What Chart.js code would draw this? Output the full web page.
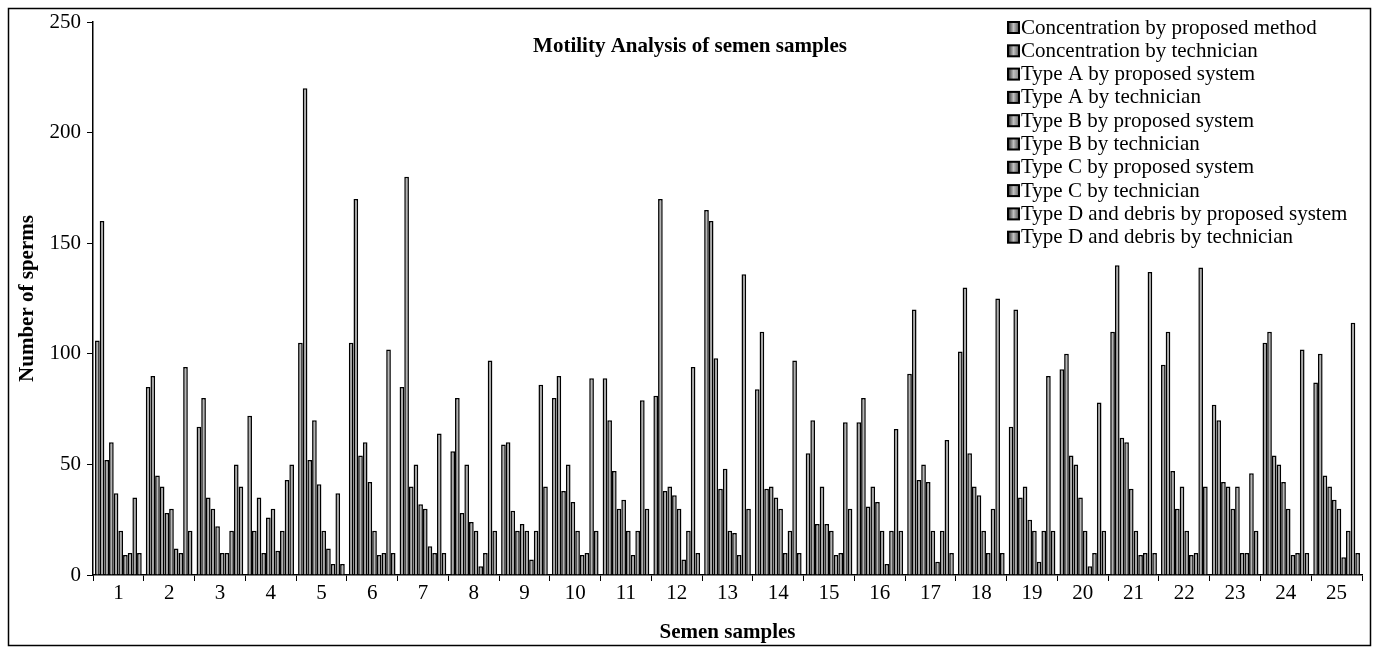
<!DOCTYPE html>
<html><head><meta charset="utf-8">
<script src="https://cdn.jsdelivr.net/npm/chart.js@4.4.0/dist/chart.umd.min.js"></script>
<style>html,body{margin:0;padding:0;background:#fff;}#wrap{width:1376px;height:648px;position:relative}</style>
</head><body><div id="wrap"><canvas id="c" width="1376" height="648"></canvas></div>
<script>
const categories = ['1','2','3','4','5','6','7','8','9','10','11','12','13','14','15','16','17','18','19','20','21','22','23','24','25'];
const seriesNames = ['Concentration by proposed method','Concentration by technician','Type A by proposed system','Type A by technician','Type B by proposed system','Type B by technician','Type C by proposed system','Type C by technician','Type D and debris by proposed system','Type D and debris by technician'];
const concProposed = [106,85,67,72,105,105,85,56,59,80,89,81,165,84,55,69,91,101,67,93,110,95,77,105,87];
const concTech     = [160,90,80,20,220,170,180,80,60,90,70,170,160,110,70,80,120,130,120,100,140,110,70,110,100];
const typeAProp    = [52,45,35,35,52,54,40,28,29,38,47,38,98,39,23,31,43,55,35,54,62,47,42,54,45];
const typeATech    = [60,40,30,10,70,60,50,50,20,50,30,40,39,40,40,40,50,40,40,50,60,30,40,50,40];
const typeBProp    = [37,28,22,26,41,42,32,24,23,33,34,36,48,35,23,33,42,36,25,35,39,40,30,42,34];
const typeBTech    = [20,30,10,30,20,20,30,20,20,20,20,30,20,30,20,20,20,20,20,20,20,20,40,30,30];
const typeCProp    = [9,12,10,11,12,9,13,4,7,9,9,7,19,10,9,5,6,10,6,4,9,9,10,9,8];
const typeCTech    = [10,10,20,20,5,10,10,10,20,10,20,20,9,20,10,20,20,30,20,10,10,10,10,10,20];
const typeDProp    = [35,94,50,43,37,102,64,97,86,89,79,94,136,97,69,66,61,125,90,78,137,139,46,102,114];
const typeDTech    = [10,20,40,50,5,10,10,20,40,20,30,10,30,10,30,20,10,10,20,20,10,40,20,10,10];
const yTicks = [0,50,100,150,200,250];

const seriesData = [concProposed,concTech,typeAProp,typeATech,typeBProp,typeBTech,typeCProp,typeCTech,typeDProp,typeDTech];
const fills = ['#505050','#5e5e5e','#8a8a8a','#444444','#747474','#4a4a4a','#565656','#6a6a6a','#525252','#4c4c4c'];
const FONT = '"Liberation Serif", "Times New Roman", serif';
const CAT_PCT = 0.92;

function barFill(context) {
  const chart = context.chart;
  const xs = chart.scales.x;
  const base = fills[context.datasetIndex];
  if (!xs || !chart.chartArea || context.dataIndex === undefined) return base;
  const cw = xs.width / categories.length;
  const bw = cw * CAT_PCT / seriesNames.length;
  const center = xs.getPixelForValue(context.dataIndex);
  const x0 = center - cw * CAT_PCT / 2 + context.datasetIndex * bw;
  const g = chart.ctx.createLinearGradient(x0, 0, x0 + bw, 0);
  g.addColorStop(0, '#2a2a2a');
  g.addColorStop(0.5, '#b8b8b8');
  g.addColorStop(1, base);
  return g;
}

const decor = {
  id: 'decor',
  afterDraw(chart) {
    const ctx = chart.ctx;
    ctx.save();
    ctx.strokeStyle = '#000'; ctx.lineWidth = 1.5;
    ctx.strokeRect(8.5, 8.5, 1362, 637);
    ctx.fillStyle = '#000';
    ctx.font = 'bold 21px ' + FONT;
    ctx.textAlign = 'center'; ctx.textBaseline = 'middle';
    ctx.fillText('Motility Analysis of semen samples', 690, 47);
    ctx.font = '21px ' + FONT;
    ctx.textAlign = 'left';
    seriesNames.forEach((n, i) => {
      const y = 27 + i * 23.3;
      const g = ctx.createLinearGradient(1008, 0, 1019, 0);
      g.addColorStop(0, '#2a2a2a'); g.addColorStop(0.5, '#c0c0c0'); g.addColorStop(1, fills[i]);
      ctx.fillStyle = g;
      ctx.fillRect(1008, y - 5, 11, 11);
      ctx.strokeStyle = '#000'; ctx.lineWidth = 2;
      ctx.strokeRect(1008, y - 5, 11, 11);
      ctx.fillStyle = '#000';
      ctx.fillText(n, 1021, y + 1);
    });
    ctx.restore();
  }
};

new Chart(document.getElementById('c'), {
  type: 'bar',
  data: {
    labels: categories,
    datasets: seriesNames.map((n, i) => ({
      label: n, data: seriesData[i],
      backgroundColor: barFill, borderColor: '#000', borderWidth: 1.5,
      categoryPercentage: CAT_PCT, barPercentage: 1.0
    }))
  },
  options: {
    responsive: false, animation: false, devicePixelRatio: 1,
    layout: { padding: { top: 22, right: 14, left: 0, bottom: 0 } },
    plugins: { legend: { display: false }, title: { display: false }, tooltip: { enabled: false } },
    scales: {
      x: {
        grid: { display: true, drawOnChartArea: false, drawTicks: true, tickLength: 6, color: '#000', lineWidth: 1, offset: true },
        border: { color: '#000', width: 1.5 },
        ticks: { color: '#000', font: { family: FONT, size: 21 }, padding: 0, maxRotation: 0, autoSkip: false },
        title: { display: true, text: 'Semen samples', color: '#000', font: { family: FONT, size: 21, weight: 'bold' }, padding: { bottom: 3, top: 0 } },
        afterFit: s => { s.height = 73; }
      },
      y: {
        min: 0, max: 250,
        afterBuildTicks: s => { s.ticks = yTicks.map(v => ({ value: v })); },
        grid: { display: true, drawOnChartArea: false, drawTicks: true, tickLength: 6, color: '#000', lineWidth: 1 },
        border: { color: '#000', width: 1.5 },
        ticks: { color: '#000', font: { family: FONT, size: 21 }, padding: 6 },
        title: { display: true, text: 'Number of sperms', color: '#000', font: { family: FONT, size: 21, weight: 'bold' }, padding: { top: 15, bottom: 0 } },
        afterFit: s => { s.width = 93; }
      }
    }
  },
  plugins: [decor]
});
</script></body></html>
